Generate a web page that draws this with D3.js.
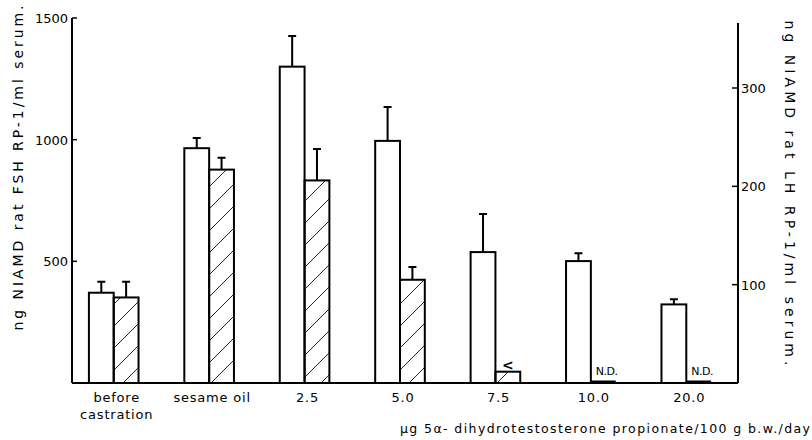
<!doctype html>
<html lang="en">
<head>
<meta charset="UTF-8" />
<title>FSH / LH bars</title>
<script src="https://cdn.jsdelivr.net/npm/d3@7"></script>
<style>
  body { margin: 0; background: #fff; }
  text { font-family: "DejaVu Sans", sans-serif; fill: #000; }
</style>
</head>
<body>
<svg id="chart" width="812" height="440"></svg>
<script>
// categories and values
var groups = ["before castration", "sesame oil", "2.5", "5.0", "7.5", "10.0", "20.0"];
var fsh    = [371, 965, 1300, 995, 538, 501, 323];      // open bars, left axis
var fshSem = [45, 42, 126, 139, 157, 32, 21];
var lh     = [87, 217, 206, 105, 11.5, null, null];     // hatched bars, right axis
var lhSem  = [16, 12, 32, 13, null, null, null];
var lhNote = ["", "", "", "", "<", "N.D.", "N.D."];
var fshTicks = [500, 1000, 1500];
var lhTicks = [100, 200, 300];

var svg = d3.select("#chart");
var base = 383;

var x = d3.scaleBand().domain(groups).range([66, 734]).paddingInner(0.48).paddingOuter(0.24);
var xs = d3.scaleBand().domain(["fsh", "lh"]).range([0, x.bandwidth()]);
var yL = d3.scaleLinear().domain([0, 1500]).range([base, 18]);
var yR = d3.scaleLinear().domain([0, 300]).range([base, 88]);

// hatch pattern
svg.append("defs").append("pattern")
  .attr("id", "hatch").attr("patternUnits", "userSpaceOnUse")
  .attr("width", 22).attr("height", 22)
  .append("path")
  .attr("d", "M0,22 L22,0 M-5,5 L5,-5 M17,27 L27,17")
  .attr("stroke", "#222").attr("stroke-width", 1);

// axes
var left = svg.append("g").attr("transform", "translate(72,0)");
left.append("line").attr("y1", 18).attr("y2", base).attr("stroke", "#000").attr("stroke-width", 2);
left.selectAll(".t").data(fshTicks).enter().append("line")
  .attr("x1", 0).attr("x2", 5).attr("y1", yL).attr("y2", yL)
  .attr("stroke", "#000").attr("stroke-width", 1.5);
left.selectAll(".l").data(fshTicks).enter().append("text")
  .attr("x", -4).attr("y", d => yL(d) + 5)
  .attr("text-anchor", "end").attr("font-size", 13)
  .text(d => d);

var right = svg.append("g").attr("transform", "translate(738,0)");
right.append("line").attr("y1", 23).attr("y2", base).attr("stroke", "#000").attr("stroke-width", 2);
right.selectAll(".t").data(lhTicks).enter().append("line")
  .attr("x1", -6).attr("x2", 0).attr("y1", yR).attr("y2", yR)
  .attr("stroke", "#000").attr("stroke-width", 1.5);
right.selectAll(".l").data(lhTicks).enter().append("text")
  .attr("x", 3).attr("y", d => yR(d) + 5)
  .attr("font-size", 13)
  .text(d => d);

svg.append("line").attr("x1", 72).attr("x2", 738).attr("y1", base).attr("y2", base)
  .attr("stroke", "#000").attr("stroke-width", 2);

// bars
var g = svg.append("g");
groups.forEach(function (c, i) {
  var x0 = x(c);
  var w = xs.bandwidth();
  // FSH open bar
  g.append("rect")
    .attr("x", x0 + xs("fsh")).attr("y", yL(fsh[i]))
    .attr("width", w).attr("height", base - yL(fsh[i]))
    .attr("fill", "#fff").attr("stroke", "#000").attr("stroke-width", 2);
  var cx = x0 + xs("fsh") + w / 2;
  var top = yL(fsh[i] + fshSem[i]);
  g.append("path")
    .attr("d", "M" + cx + "," + yL(fsh[i]) + "V" + top + "M" + (cx - 4) + "," + top + "H" + (cx + 4))
    .attr("stroke", "#000").attr("stroke-width", 2).attr("fill", "none");

  // LH hatched bar
  var hx = x0 + xs("lh");
  if (lh[i] != null) {
    g.append("rect")
      .attr("x", hx).attr("y", yR(lh[i]))
      .attr("width", w).attr("height", base - yR(lh[i]))
      .attr("fill", "url(#hatch)").attr("stroke", "#000").attr("stroke-width", 2);
    if (lhSem[i] != null) {
      var hcx = hx + w / 2;
      var htop = yR(lh[i] + lhSem[i]);
      g.append("path")
        .attr("d", "M" + hcx + "," + yR(lh[i]) + "V" + htop + "M" + (hcx - 4) + "," + htop + "H" + (hcx + 4))
        .attr("stroke", "#000").attr("stroke-width", 2).attr("fill", "none");
    }
  } else {
    g.append("line")
      .attr("x1", hx).attr("x2", hx + w).attr("y1", base - 1).attr("y2", base - 1)
      .attr("stroke", "#000").attr("stroke-width", 3);
  }
  if (lhNote[i] == "<") {
    g.append("text")
      .attr("x", hx + w / 2).attr("y", yR(lh[i]) - 2)
      .attr("text-anchor", "middle").attr("font-size", 14).attr("font-weight", "bold")
      .text(lhNote[i]);
  } else if (lhNote[i]) {
    g.append("text")
      .attr("x", hx + 5).attr("y", base - 8)
      .attr("font-size", 11).attr("letter-spacing", -0.5)
      .text(lhNote[i]);
  }

  // category labels
  var words = c == "before castration" ? ["before", "castration"] : [c];
  words.forEach(function (wd, k) {
    svg.append("text")
      .attr("x", x0 + x.bandwidth() / 2 + 3).attr("y", 402 + k * 17)
      .attr("text-anchor", "middle").attr("font-size", 13).attr("letter-spacing", 0.8)
      .text(wd);
  });
});

// axis titles
svg.append("text")
  .attr("transform", "translate(23,168) rotate(-90)")
  .attr("text-anchor", "middle").attr("font-size", 14)
  .attr("textLength", 325).attr("lengthAdjust", "spacing")
  .text("ng NIAMD rat FSH RP-1/ml serum.");

svg.append("text")
  .attr("transform", "translate(785,193) rotate(90)")
  .attr("text-anchor", "middle").attr("font-size", 14)
  .attr("textLength", 345).attr("lengthAdjust", "spacing")
  .text("ng NIAMD rat LH RP-1/ml serum.");

svg.append("text")
  .attr("x", 810).attr("y", 433)
  .attr("text-anchor", "end").attr("font-size", 12.5)
  .attr("textLength", 410).attr("lengthAdjust", "spacing")
  .text("μg 5α- dihydrotestosterone propionate/100 g b.w./day");
</script>
</body>
</html>
